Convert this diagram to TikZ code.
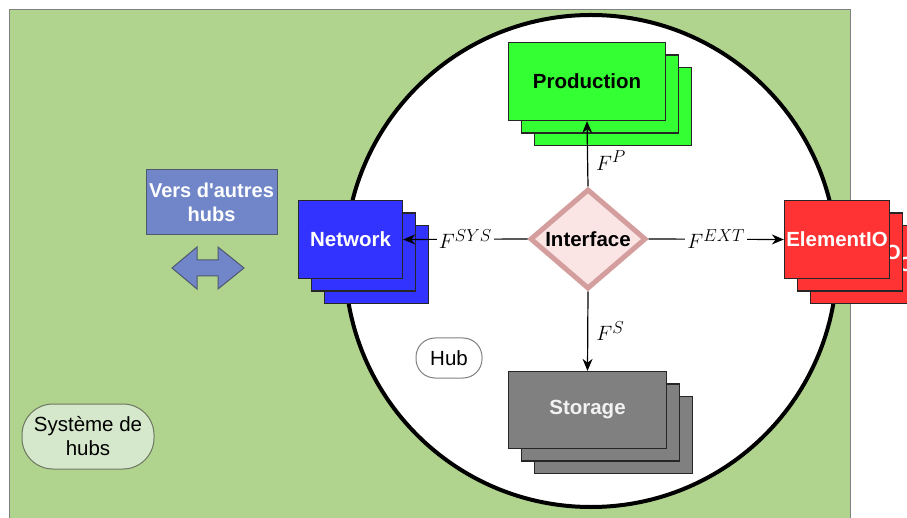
\documentclass[tikz,border=0pt]{standalone}
\usepackage{fontspec}
\setmainfont{Liberation Sans}
\DeclareMathSizes{22}{22}{17.5}{13}
\usetikzlibrary{arrows.meta,shapes.geometric}
\definecolor{bggreen}{RGB}{176,211,141}
\definecolor{prodgreen}{RGB}{51,255,51}
\definecolor{netblue}{RGB}{51,51,255}
\definecolor{eiored}{RGB}{255,51,51}
\definecolor{storgray}{RGB}{128,128,128}
\definecolor{versblue}{RGB}{112,134,200}
\definecolor{versborder}{RGB}{80,88,110}
\definecolor{sysfill}{RGB}{214,232,204}
\definecolor{sysborder}{RGB}{110,120,100}
\definecolor{ifill}{RGB}{250,228,228}
\definecolor{iborder}{RGB}{212,158,158}
\begin{document}
\begin{tikzpicture}[x=1pt,y=-1pt,
  stackbox/.style={rectangle, draw=black!85, line width=1.3pt, inner sep=0pt,
    font=\fontsize{20.5}{24}\selectfont\bfseries},
  roundlbl/.style={rectangle, line width=1pt, inner sep=0pt, align=center,
    font=\fontsize{20.5}{24}\selectfont},
  arr/.style={line width=1.2pt, -{Stealth[length=12pt,width=10pt]}},
  mathlbl/.style={font=\fontsize{22}{26}\selectfont, inner sep=2pt}]
\useasboundingbox (0,0) rectangle (907,518);
\clip (0,0) rectangle (907,518);
% background system
\draw[fill=bggreen, draw=gray, line width=1pt] (9,10) rectangle (850,530);
% hub circle
\draw[fill=white, draw=black, line width=4pt] (591,261) circle[radius=246];
% Vers d'autres hubs
\node[roundlbl, draw=versborder, fill=versblue, text=white, font=\fontsize{20}{24}\selectfont\bfseries,
  minimum width=131pt, minimum height=65pt] (vers) at (211.5,202.5) {Vers d\textquotesingle autres\\hubs};
\draw[fill=versblue, draw=versborder, line width=1pt]
  (172,268) -- (197,247) -- (197,260) -- (218,260) -- (218,247) -- (244,268)
  -- (218,289) -- (218,276) -- (197,276) -- (197,289) -- cycle;
% Systeme de hubs
\node[roundlbl, draw=sysborder, fill=sysfill, rounded corners=31pt,
  minimum width=132pt, minimum height=65pt] (sys) at (88,436.5) {Système de\\hubs};
% Hub label
\node[roundlbl, draw=gray, fill=white, rounded corners=19pt,
  minimum width=66pt, minimum height=40pt] (hub) at (449,358) {Hub};
% Production stack
\node[stackbox, fill=prodgreen, minimum width=157pt, minimum height=78pt] (prod3) at (613,106.5) {};
\node[stackbox, fill=prodgreen, minimum width=157pt, minimum height=78pt] (prod2) at (600,94) {};
\node[stackbox, fill=prodgreen, minimum width=157pt, minimum height=78pt] (prod) at (587,81.5) {Production};
% Network stack
\node[stackbox, fill=netblue, text=white, minimum width=104pt, minimum height=78pt] (net3) at (376.5,264.5) {};
\node[stackbox, fill=netblue, text=white, minimum width=104pt, minimum height=78pt] (net2) at (363.5,252) {};
\node[stackbox, fill=netblue, text=white, minimum width=104pt, minimum height=78pt] (net) at (350.5,239.5) {Network};
% ElementIO stack
\node[stackbox, fill=eiored, text=white, minimum width=105pt, minimum height=78pt] (eio3) at (863,264.5) {ElementIO};
\node[stackbox, fill=eiored, text=white, minimum width=105pt, minimum height=78pt] (eio2) at (850,252) {ElementIO};
\node[stackbox, fill=eiored, text=white, minimum width=105pt, minimum height=78pt] (eio) at (837,239.5) {ElementIO};
% Storage stack
\node[stackbox, fill=storgray, text=white!95!black, minimum width=158pt, minimum height=77pt] (stor3) at (613.5,435) {};
\node[stackbox, fill=storgray, text=white!95!black, minimum width=158pt, minimum height=77pt] (stor2) at (600.5,422.5) {};
\node[stackbox, fill=storgray, text=white!95!black, minimum width=158pt, minimum height=77pt] (stor) at (587.5,410) {Storage};
% Interface
\node[diamond, aspect=1.16, draw=iborder, fill=ifill, line width=5pt, inner sep=0pt,
  minimum width=116pt, minimum height=100pt,
  font=\fontsize{20.5}{24}\selectfont\bfseries] (iface) at (588,239) {Interface};
% connectors
\draw[arr] (iface.north) -- (prod.south) node[mathlbl, pos=0.4, right=6pt] {$F^{P}$};
\draw[arr] (iface.south) -- (stor.north) node[mathlbl, pos=0.5, right=6pt] {$F^{S}$};
\draw[arr] (iface.west) -- (net.east) node[mathlbl, midway, fill=white] {$F^{SYS}$};
\draw[arr] (iface.east) -- (eio.west) node[mathlbl, midway, fill=white] {$F^{EXT}$};
\end{tikzpicture}
\end{document}
